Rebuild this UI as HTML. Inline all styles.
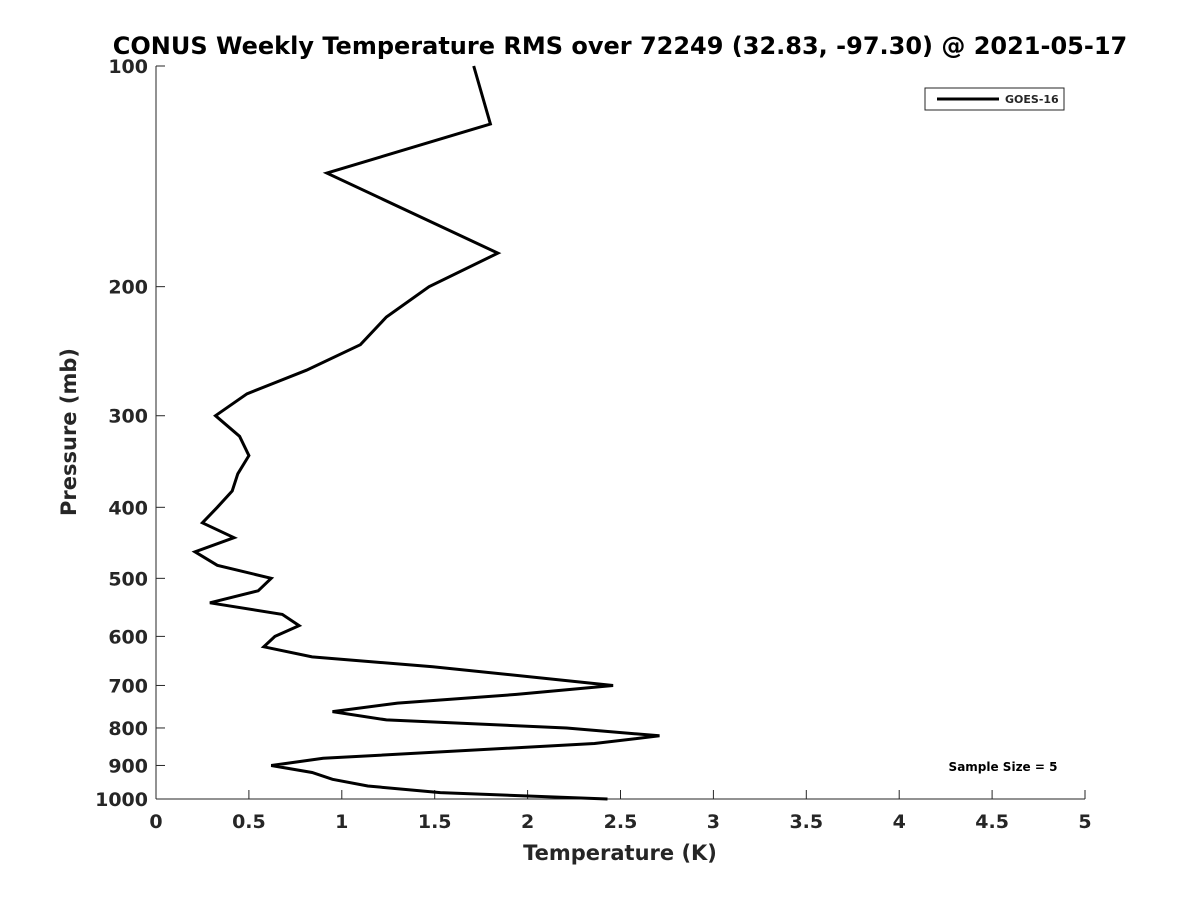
<!DOCTYPE html>
<html><head><meta charset="utf-8"><style>
body{margin:0;background:#fff;}
svg text{font-family:"DejaVu Sans","Liberation Sans",sans-serif;font-weight:bold;fill:#262626;}
</style></head><body>
<svg width="1200" height="900" xmlns="http://www.w3.org/2000/svg">
<rect width="1200" height="900" fill="#fff"/>
<text x="620" y="54" text-anchor="middle" font-size="24" style="fill:#000">CONUS Weekly Temperature RMS over 72249 (32.83, -97.30) @ 2021-05-17</text>
<g id="axes"></g>
<g id="series"></g>
<text x="620" y="860" text-anchor="middle" font-size="21">Temperature (K)</text>
<text transform="translate(76,432) rotate(-90)" text-anchor="middle" font-size="21">Pressure (mb)</text>
<g>
<rect x="925" y="88" width="139" height="22" fill="#fff" stroke="#262626" stroke-width="1"/>
<line x1="937" y1="99" x2="999" y2="99" stroke="#000" stroke-width="3"/>
<text x="1005" y="103" font-size="11">GOES-16</text>
</g>
<text x="1003" y="771" text-anchor="middle" font-size="12" style="fill:#000">Sample Size = 5</text>
</svg>
<script>
const pressures=[100,120,140,180,200,220,240,260,280,300,320,340,360,380,400,420,440,460,480,500,520,540,560,580,600,620,640,660,700,720,740,760,780,800,820,840,880,900,920,940,960,980,1000];
const temps=[1.71,1.80,0.92,1.84,1.47,1.24,1.10,0.81,0.49,0.32,0.45,0.50,0.44,0.41,0.33,0.25,0.42,0.21,0.33,0.62,0.55,0.29,0.68,0.77,0.64,0.58,0.84,1.49,2.46,1.94,1.30,0.95,1.24,2.21,2.71,2.36,0.90,0.62,0.84,0.95,1.14,1.53,2.43];
const xTicks=[0,0.5,1,1.5,2,2.5,3,3.5,4,4.5,5];
const xTickLabels=["0","0.5","1","1.5","2","2.5","3","3.5","4","4.5","5"];
const yTicks=[100,200,300,400,500,600,700,800,900,1000];
const yTickLabels=["100","200","300","400","500","600","700","800","900","1000"];
const L=156,R=1085,T=66,B=799;
const xs=v=>L+(v/5)*(R-L);
const ys=p=>T+Math.log10(p/100)*(B-T);
const NS="http://www.w3.org/2000/svg";
const ax=document.getElementById('axes');
function mk(tag,attrs,parent){const e=document.createElementNS(NS,tag);for(const k in attrs)e.setAttribute(k,attrs[k]);parent.appendChild(e);return e;}
const xl=mk('line',{x1:L,y1:B,x2:R,y2:B,stroke:'#262626','stroke-width':1},ax);


const yl=mk('line',{x1:L,y1:T,x2:L,y2:B,stroke:'#262626','stroke-width':1},ax);


xTicks.forEach((v,i)=>{
 const x=xs(v);
 mk('line',{x1:x,y1:B,x2:x,y2:B-9,stroke:'#262626'},ax);
 const t=mk('text',{x:x,y:B+29,'text-anchor':'middle','font-size':19},ax);
 t.textContent=xTickLabels[i];
 
 
});
yTicks.forEach((p,i)=>{
 const y=ys(p);
 mk('line',{x1:L,y1:y,x2:L+9,y2:y,stroke:'#262626'},ax);
 const t=mk('text',{x:L-8,y:y+7,'text-anchor':'end','font-size':19},ax);
 t.textContent=yTickLabels[i];
 
 
});
const pts=pressures.map((p,i)=>xs(temps[i]).toFixed(1)+','+ys(p).toFixed(1)).join(' ');
const pl=mk('polyline',{points:pts,fill:'none',stroke:'#000','stroke-width':3,'stroke-linejoin':'miter'},document.getElementById('series'));


</script>
</body></html>
